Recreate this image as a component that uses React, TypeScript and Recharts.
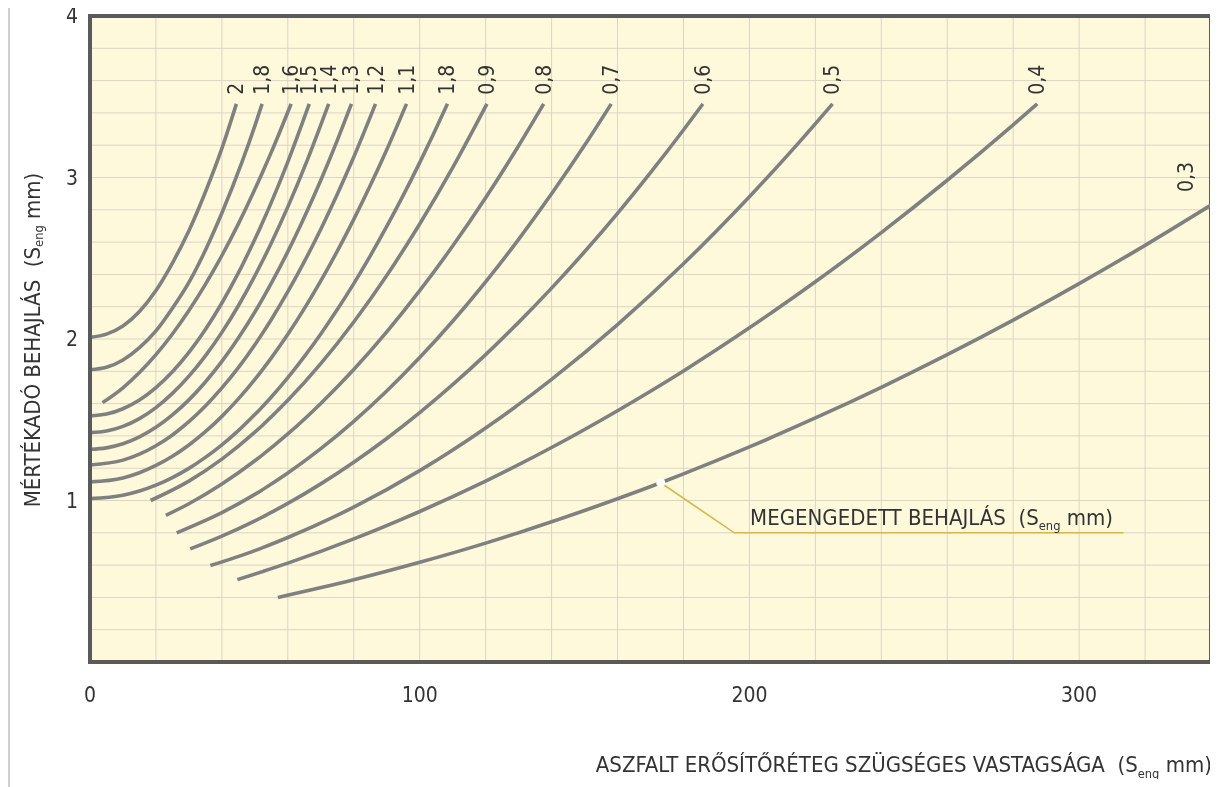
import React from 'react';
import { LineChart, Line, XAxis, YAxis, CartesianGrid, ReferenceLine, ReferenceDot } from 'recharts';

// ---------- data ----------
const C_2 = [[0, 2.01], [5, 2.03], [10, 2.08], [15, 2.17], [20, 2.3], [25, 2.47], [30, 2.67], [35, 2.91], [40, 3.18], [44.4, 3.456]];
const C_18 = [[0, 1.81], [5, 1.825], [10, 1.87], [15, 1.946], [20, 2.05], [25, 2.19], [30, 2.35], [35, 2.55], [40, 2.78], [46, 3.09], [50, 3.32], [52.2, 3.456]];
const C_16 = [[3.8, 1.606], [10, 1.698], [15, 1.792], [20, 1.903], [25, 2.031], [30, 2.176], [35, 2.338], [40, 2.517], [45, 2.713], [50, 2.927], [55, 3.157], [61, 3.456]];
const C_15 = [[0, 1.524], [5, 1.535], [10, 1.568], [15, 1.622], [20, 1.699], [25, 1.797], [30, 1.917], [35, 2.059], [40, 2.223], [45, 2.409], [50, 2.617], [55, 2.846], [60, 3.097], [66.5, 3.456]];
const C_14 = [[0, 1.42], [5, 1.43], [10, 1.459], [15, 1.507], [20, 1.575], [25, 1.663], [30, 1.77], [35, 1.896], [40, 2.041], [45, 2.206], [50, 2.391], [55, 2.595], [60, 2.818], [66, 3.112], [72.4, 3.456]];
const C_13 = [[0, 1.317], [5, 1.326], [10, 1.351], [15, 1.394], [20, 1.453], [25, 1.53], [30, 1.623], [35, 1.734], [40, 1.861], [45, 2.006], [50, 2.167], [55, 2.346], [60, 2.541], [65, 2.754], [70, 2.983], [75, 3.23], [79.3, 3.456]];
const C_12 = [[0, 1.22], [10, 1.25], [15, 1.287], [20, 1.339], [25, 1.406], [30, 1.488], [35, 1.585], [40, 1.697], [45, 1.823], [50, 1.965], [55, 2.121], [60, 2.293], [65, 2.479], [70, 2.68], [75, 2.896], [80, 3.127], [86.6, 3.456]];
const C_11 = [[0, 1.115], [10, 1.14], [15, 1.172], [20, 1.217], [25, 1.274], [30, 1.344], [35, 1.426], [40, 1.521], [45, 1.629], [50, 1.75], [55, 1.883], [60, 2.029], [65, 2.188], [70, 2.36], [75, 2.544], [80, 2.741], [85, 2.95], [90, 3.172], [96, 3.456]];
const C_10 = [[0, 1.012], [10, 1.033], [15, 1.059], [20, 1.095], [25, 1.142], [30, 1.199], [35, 1.267], [40, 1.345], [45, 1.433], [50, 1.532], [55, 1.641], [60, 1.761], [65, 1.891], [70, 2.031], [75, 2.182], [80, 2.343], [85, 2.515], [90, 2.697], [95, 2.889], [100, 3.092], [104, 3.262], [108.4, 3.456]];
const C_09 = [[18.4, 1.0], [30, 1.12], [40, 1.256], [50, 1.423], [60, 1.62], [70, 1.847], [80, 2.105], [90, 2.393], [100, 2.712], [110, 3.061], [120.4, 3.456]];
const C_08 = [[23, 0.908], [30, 0.98], [40, 1.102], [50, 1.246], [60, 1.412], [70, 1.601], [80, 1.811], [90, 2.044], [100, 2.299], [110, 2.576], [120, 2.875], [130, 3.197], [137.6, 3.456]];
const C_07 = [[26.3, 0.8], [40, 0.925], [50, 1.038], [60, 1.17], [70, 1.321], [80, 1.49], [90, 1.678], [100, 1.885], [110, 2.11], [120, 2.354], [130, 2.617], [140, 2.899], [150, 3.199], [158.1, 3.456]];
const C_06 = [[30.4, 0.7], [40, 0.779], [50, 0.874], [60, 0.982], [70, 1.103], [80, 1.237], [90, 1.384], [100, 1.544], [110, 1.717], [120, 1.903], [130, 2.103], [140, 2.315], [150, 2.54], [160, 2.778], [170, 3.03], [180, 3.294], [185.9, 3.456]];
const C_05 = [[36.5, 0.597], [50, 0.69], [60, 0.771], [80, 0.959], [100, 1.185], [120, 1.449], [140, 1.75], [160, 2.089], [180, 2.466], [200, 2.881], [215, 3.216], [225.2, 3.456]];
const C_04 = [[44.7, 0.51], [60, 0.612], [80, 0.762], [100, 0.932], [120, 1.12], [140, 1.328], [160, 1.556], [180, 1.802], [200, 2.069], [220, 2.354], [240, 2.659], [260, 2.983], [280, 3.326], [287.3, 3.456]];
const C_03 = [[57, 0.4], [80, 0.509], [100, 0.617], [120, 0.736], [140, 0.868], [160, 1.011], [173.1, 1.11], [180, 1.165], [200, 1.332], [220, 1.511], [240, 1.701], [260, 1.903], [280, 2.117], [300, 2.343], [320, 2.58], [340, 2.829]];

const CURVE_LABELS = ['2', '1,8', '1,6', '1,5', '1,4', '1,3', '1,2', '1,1', '1,8', '0,9', '0,8', '0,7', '0,6', '0,5', '0,4', '0,3'];
const CURVE_VALUES = [C_2, C_18, C_16, C_15, C_14, C_13, C_12, C_11, C_10, C_09, C_08, C_07, C_06, C_05, C_04, C_03];

// label of the last curve sits beside the right edge
const LAST_LABEL_AT = [332.4, 2.91];

// permitted deflection marker and its leader line
const MARK_POINT = [173.1, 1.11];
const LEADER = [[173.1, 1.11], [195.4, 0.8], [313.5, 0.8]];
const ANNOTATION_AT = [200.2, 0.8];

const X_TICKS = [0, 20, 40, 60, 80, 100, 120, 140, 160, 180, 200, 220, 240, 260, 280, 300, 320, 340];
const Y_TICKS = [0, 0.2, 0.4, 0.6, 0.8, 1, 1.2, 1.4, 1.6, 1.8, 2, 2.2, 2.4, 2.6, 2.8, 3, 3.2, 3.4, 3.6, 3.8, 4];

// ---------- styles ----------
const FONT = '"DejaVu Sans Condensed", "DejaVu Sans", sans-serif';
const TEXT = '#333333';
const CURVE = '#808080';
const FRAME = '#5a5a5a';
const GRID = '#dad5c4';
const PAPER = '#fff9dc';
const GOLD = '#d6b84a';

const toPts = (arr: number[][]) => arr.map(([x, y]) => ({ x, y }));
const SERIES = CURVE_VALUES.map(toPts);

const Sub = ({ big }: { big: number }) => (
  <>
    S
    <tspan fontSize={big * 0.58} dy={big * 0.25}>eng</tspan>
    <tspan dy={-big * 0.25}>{'\u00a0'}mm)</tspan>
  </>
);

const XTitle = () => (
  <text x={1212} y={772} textAnchor="end" fontSize={22} fill={TEXT} fontFamily={FONT}>
    {'ASZFALT ERŐSÍTŐRÉTEG SZÜGSÉGES VASTAGSÁGA\u00a0\u00a0('}
    <Sub big={22} />
  </text>
);

const YTitle = () => (
  <text
    x={32}
    y={340}
    textAnchor="middle"
    dominantBaseline="central"
    transform="rotate(-90 32 340)"
    fontSize={22}
    fill={TEXT}
    fontFamily={FONT}
  >
    {'MÉRTÉKADÓ BEHAJLÁS\u00a0\u00a0('}
    <Sub big={22} />
  </text>
);

const rotatedLabel = (text: string, off: number) => (props: any) => {
  const { cx, cy } = props;
  const y = cy - off;
  return (
    <text
      x={cx}
      y={y}
      transform={`rotate(-90 ${cx} ${y})`}
      dominantBaseline="central"
      fontSize={21}
      fill={TEXT}
      fontFamily={FONT}
    >
      {text}
    </text>
  );
};

const annotationShape = (props: any) => {
  const { cx, cy } = props;
  return (
    <text x={cx} y={cy - 8} fontSize={22} fill={TEXT} fontFamily={FONT}>
      {'MEGENGEDETT BEHAJLÁS\u00a0\u00a0('}
      <Sub big={22} />
    </text>
  );
};

export default function App() {
  const n = SERIES.length;
  return (
    <div style={{ width: 1218, height: 779, margin: '-8px 0 0 -8px', position: 'relative' }}>
      <div style={{ position: 'fixed', left: 8, top: 8, width: 2, height: 779, background: '#cfcfcf' }} />
      <LineChart width={1218} height={779} margin={{ top: 16, right: 7, bottom: 77, left: 0 }}>
        <CartesianGrid stroke={GRID} strokeWidth={1} fill={PAPER} fillOpacity={1} />
        <XAxis
          dataKey="x"
          type="number"
          domain={[0, 340]}
          ticks={X_TICKS}
          interval={0}
          allowDataOverflow
          tickLine={false}
          tickSize={0}
          tickMargin={25}
          height={40}
          axisLine={{ stroke: FRAME, strokeWidth: 4, strokeLinecap: 'square' }}
          tick={{ fontSize: 21, fill: TEXT, fontFamily: FONT }}
          tickFormatter={(v: number) => (v % 100 === 0 ? String(v) : '')}
          label={{ content: () => <XTitle /> }}
        />
        <YAxis
          type="number"
          domain={[0, 4]}
          ticks={Y_TICKS}
          interval={0}
          allowDataOverflow
          width={90}
          tickLine={false}
          tickSize={0}
          tickMargin={12}
          axisLine={{ stroke: FRAME, strokeWidth: 4, strokeLinecap: 'square' }}
          tick={{ fontSize: 21, fill: TEXT, fontFamily: FONT }}
          tickFormatter={(v: number) => (Number.isInteger(v) && v > 0 ? String(v) : '')}
          label={{ content: () => <YTitle /> }}
        />
        <ReferenceLine y={4} stroke={FRAME} strokeWidth={4} strokeLinecap="square" />
        <ReferenceLine x={340} stroke={FRAME} strokeWidth={4} strokeLinecap="square" />
        {SERIES.map((d, i) => (
          <Line
            key={'c' + i}
            data={d}
            dataKey="y"
            type="monotone"
            stroke={CURVE}
            strokeWidth={3.6}
            dot={false}
            activeDot={false}
            isAnimationActive={false}
          />
        ))}
        <Line
          data={toPts(LEADER)}
          dataKey="y"
          type="linear"
          stroke={GOLD}
          strokeWidth={1.6}
          dot={false}
          activeDot={false}
          isAnimationActive={false}
        />
        <ReferenceDot x={MARK_POINT[0]} y={MARK_POINT[1]} r={4.5} fill="#ffffff" stroke="none" />
        {SERIES.map((d, i) => {
          const last = i === n - 1;
          const p = last ? { x: LAST_LABEL_AT[0], y: LAST_LABEL_AT[1] } : d[d.length - 1];
          return (
            <ReferenceDot
              key={'l' + i}
              x={p.x}
              y={p.y}
              r={1}
              shape={rotatedLabel(CURVE_LABELS[i], last ? 0 : 9)}
            />
          );
        })}
        <ReferenceDot x={ANNOTATION_AT[0]} y={ANNOTATION_AT[1]} r={1} shape={annotationShape} />
      </LineChart>
    </div>
  );
}
